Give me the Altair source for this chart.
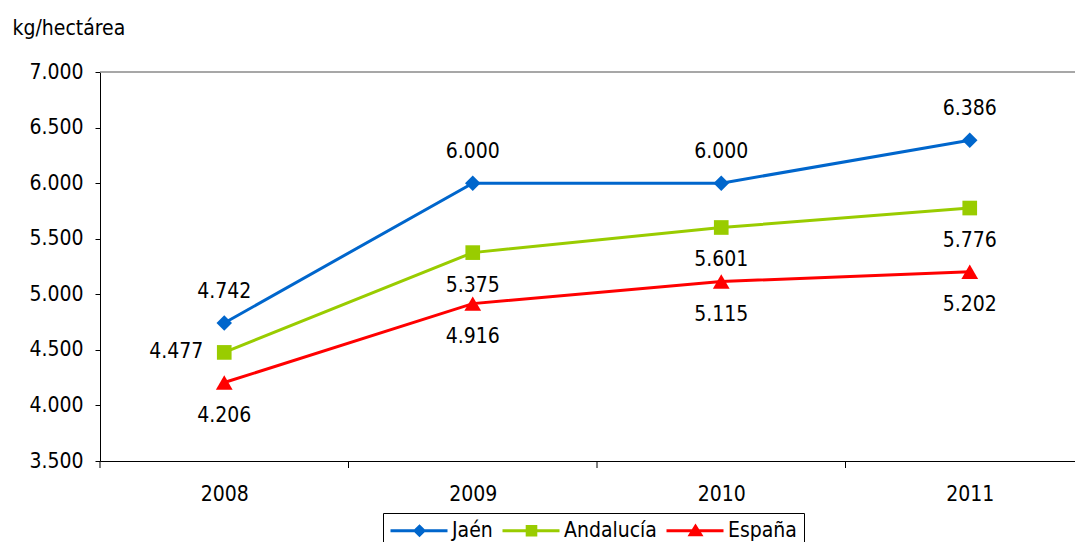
import altair as alt
import pandas as pd

years = [2008, 2009, 2010, 2011]
series = ["Jaén", "Andalucía", "España"]
jaen = [4742, 6000, 6000, 6386]
andalucia = [4477, 5375, 5601, 5776]
espana = [4206, 4916, 5115, 5202]
colors = ["#0066CC", "#99CC00", "#FF0000"]
shapes = ["diamond", "square", "triangle-up"]
shape_sizes = [240, 215, 280]
y_ticks = [3500, 4000, 4500, 5000, 5500, 6000, 6500, 7000]
# category boundaries (where the x-axis tick marks sit)
x_bounds = [y - 0.5 for y in years]

# legend glyphs: line + marker (unit = sqrt(symbolSize)/2 = 10 px)
legend_paths = [
    "M-1,-0.15H4.7V0.15H-1Z M1.9,-0.66L2.56,0L1.9,0.66L1.24,0Z",
    "M-1,-0.15H4.7V0.15H-1Z M1.32,-0.58H2.48V0.58H1.32Z",
    "M-1,-0.15H4.7V0.15H-1Z M1.9,-0.72L2.7,0.55H1.1Z",
]

rows = []
for s, vals in zip(series, [jaen, andalucia, espana]):
    for yr, v in zip(years, vals):
        rows.append({"Año": yr, "Serie": s, "Valor": v})
df = pd.DataFrame(rows)

FONT = "DejaVu Sans Condensed"
FS = 21
W, H = 975, 389
STEP = 248.5  # pixels per year in the reference

x_scale = alt.Scale(domain=[2007.5, 2007.5 + W / STEP], nice=False, zero=False)
x_axis = alt.Axis(
    title=None, values=years, format="d", labelAngle=0,
    labelOverlap=False, labelFlush=False, ticks=False,
    labelPadding=22, grid=False,
    labelFont=FONT, labelFontSize=FS, labelColor="black",
    domainColor="black", domainWidth=1,
)
x_enc = alt.X("Año:Q", scale=x_scale, axis=x_axis)
y_enc = alt.Y(
    "Valor:Q",
    scale=alt.Scale(domain=[3500, 7000], nice=False, zero=False),
    axis=alt.Axis(
        values=y_ticks, grid=False, title="kg/hectárea", titleAngle=0,
        titleAlign="left", titleBaseline="middle", titleX=-88, titleY=-44,
        titleFont=FONT, titleFontSize=FS, titleFontWeight="normal", titleColor="black",
        labelExpr="replace(format(datum.value, ','), ',', '.')",
        labelFont=FONT, labelFontSize=FS, labelColor="black", labelPadding=12,
        tickSize=5, tickColor="black", domainColor="black", domainWidth=1, tickWidth=1,
    ),
)
color_scale = alt.Scale(domain=series, range=colors)

base = alt.Chart(df)

series_layers = []
for s, c, sh, sz in zip(series, colors, shapes, shape_sizes):
    sub = base.transform_filter(alt.datum.Serie == s)
    series_layers.append(sub.mark_line(strokeWidth=3, color=c).encode(x=x_enc, y=y_enc))
    series_layers.append(
        sub.mark_point(filled=True, shape=sh, size=sz, color=c, opacity=1)
        .encode(x=x_enc, y=y_enc)
    )

fmt = "replace(format(datum.Valor, ','), ',', '.')"
txt_kw = dict(font=FONT, fontSize=FS, color="black", baseline="middle")
lab_above = (
    base.transform_filter("datum.Serie == 'Jaén'")
    .transform_calculate(lab=fmt)
    .mark_text(dy=-31, **txt_kw)
    .encode(x=x_enc, y=y_enc, text="lab:N")
)
lab_left = (
    base.transform_filter("datum.Serie == 'Andalucía' && datum['Año'] == 2008")
    .transform_calculate(lab=fmt)
    .mark_text(dx=-21, align="right", **txt_kw)
    .encode(x=x_enc, y=y_enc, text="lab:N")
)
lab_below = (
    base.transform_filter(
        "(datum.Serie == 'Andalucía' && datum['Año'] != 2008) || datum.Serie == 'España'"
    )
    .transform_calculate(lab=fmt)
    .mark_text(dy=33, **txt_kw)
    .encode(x=x_enc, y=y_enc, text="lab:N")
)

# x-axis tick marks at the category boundaries
bound_ticks = alt.Chart(pd.DataFrame({"Año": x_bounds})).mark_rule(
    color="black", strokeWidth=1
).encode(x=x_enc, y=alt.value(H), y2=alt.value(H + 7))

leg = alt.Legend(
    title=None, orient="none", legendX=283, legendY=441, direction="horizontal",
    symbolSize=400, symbolStrokeWidth=0, symbolOpacity=1, labelOffset=41,
    columnPadding=9, padding=7, strokeColor="black", fillColor="white",
    labelFont=FONT, labelFontSize=FS, labelColor="black", labelLimit=300,
)
# legend-only layer: no marks drawn (empty after filter), scales have explicit domains
legend_layer = (
    base.transform_filter("false")
    .mark_point(filled=True, size=400)
    .encode(
        x=x_enc, y=y_enc,
        color=alt.Color("Serie:N", scale=color_scale, legend=leg),
        shape=alt.Shape("Serie:N", scale=alt.Scale(domain=series, range=legend_paths), legend=leg),
    )
)

top_border = alt.Chart(pd.DataFrame({"k": [0]})).mark_rule(
    color="#8a8a8a", strokeWidth=1.5
).encode(x=alt.value(0), x2=alt.value(W), y=alt.value(0))

chart = (
    alt.layer(top_border, bound_ticks, *series_layers, lab_above, lab_left, lab_below,
              legend_layer)
    .properties(
        width=W, height=H,
        padding={"left": 92, "top": 64, "right": 0, "bottom": 81},
        autosize=alt.AutoSizeParams(type="none"),
        background="white",
    )
    .configure_view(stroke=None)
)

chart.save("out.html", embed_options={"renderer": "svg", "actions": False})
